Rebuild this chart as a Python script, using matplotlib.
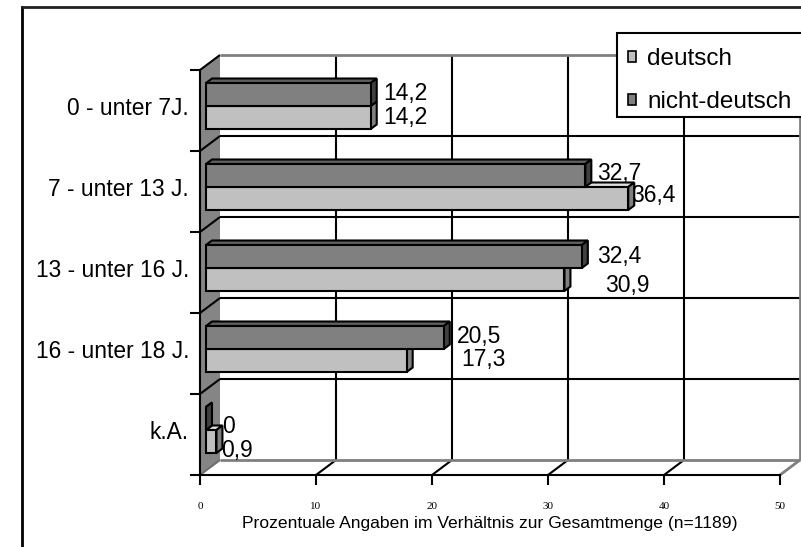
import matplotlib
matplotlib.use("Agg")
import matplotlib.pyplot as plt
from matplotlib.patches import Polygon, Patch, Rectangle
from matplotlib.lines import Line2D

# data, top to bottom as in the chart
categories = ["0 - unter 7J.", "7 - unter 13 J.", "13 - unter 16 J.", "16 - unter 18 J.", "k.A."]
deutsch = [14.2, 36.4, 30.9, 17.3, 0.9]
nicht_deutsch = [14.2, 32.7, 32.4, 20.5, 0.0]
x_ticks = [0, 10, 20, 30, 40, 50]
series_names = ["deutsch", "nicht-deutsch"]

# label nudges in pixels (Excel puts some labels a bit off)
nudge_dark = [(0, 1), (-1, 2), (2, 0), (0, 1), (3, -8)]
nudge_light = [(0, 0), (-10, 3), (10, -6), (4, 1), (-8, -9)]

plt.rcParams['font.family'] = ['Liberation Sans', 'DejaVu Sans']

W, H = 801, 547
fig = plt.figure(figsize=(W / 100, H / 100), dpi=100)
ax = fig.add_axes([200 / W, 72 / H, 580 / W, 405 / H])
n = len(categories)
ax.set_xlim(0, 50)
ax.set_ylim(0, n)

# depth of the box: 20 px right, 15 px up
DX = 20 / (580 / 50)
DY = 15 / (405 / n)


def P(x, y, d):
    return (x + d * DX, y + d * DY)


def line(p, q, color='black', lw=1.5, z=2):
    ax.plot([p[0], q[0]], [p[1], q[1]], color=color, lw=lw, clip_on=False,
            solid_capstyle='butt', zorder=z)


def face(pts, color):
    ax.add_patch(Polygon(pts, closed=True, facecolor=color, edgecolor='black',
                         lw=1.5, joinstyle='miter', clip_on=False, zorder=4))


def bar3d(v, y0, y1, d0, d1, front, top, side):
    face([P(0, y1, d0), P(v, y1, d0), P(v, y1, d1), P(0, y1, d1)], top)
    face([P(v, y0, d0), P(v, y0, d1), P(v, y1, d1), P(v, y1, d0)], side)
    face([P(0, y0, d0), P(v, y0, d0), P(v, y1, d0), P(0, y1, d0)], front)


# wall
ax.add_patch(Polygon([P(0, 0, 0), P(0, n, 0), P(0, n, 1), P(0, 0, 1)], closed=True,
                     facecolor='#858585', edgecolor='none', clip_on=False, zorder=1))
for k in range(1, n + 1):
    line(P(0, k, 0), P(0, k, 1))
line(P(0, 0, 0), P(0, 0, 1), color='#707070')

# back plane grid
for xv in x_ticks[1:-1]:
    line(P(xv, 0, 1), P(xv, n, 1))
    line(P(xv, 0, 0), P(xv, 0, 1))
for k in range(1, n):
    line(P(0, k, 1), P(50, k, 1))
line(P(0, n, 1), P(50, n, 1), color='#808080', lw=2)
line(P(50, 0, 1), P(50, n, 1), color='#808080', lw=2)
line(P(0, 0, 1), P(50, 0, 1), color='#808080', lw=2)
line(P(50, 0, 0), P(50, 0, 1), color='#808080', lw=2)

# bars
h = 23 / 81
d0, d1 = 0.3, 0.6
yc_list = []
for i in range(n):
    yc = n - 1 - i + 0.5
    yc_list.append(yc)
    bar3d(deutsch[i], yc - h, yc, d0, d1, '#c0c0c0', '#e0e0e0', '#808080')
    bar3d(nicht_deutsch[i], yc, yc + h, d0, d1, '#808080', '#606060', '#404040')


def fmt(v):
    return f"{v:g}".replace('.', ',')


for i in range(n):
    yc = yc_list[i]
    # dark label
    x = P(nicht_deutsch[i], 0, d1)[0]
    y = P(0, yc + h / 2, d0)[1]
    ax.annotate(fmt(nicht_deutsch[i]), xy=(x, y), xytext=(7 + nudge_dark[i][0], nudge_dark[i][1]),
                textcoords='offset pixels', ha='left', va='center', fontsize=16.5,
                annotation_clip=False, zorder=6)
    # light label, Excel pushes it past the longer bar
    x = P(max(deutsch[i], nicht_deutsch[i]), 0, d1)[0]
    y = P(0, yc - h / 2, d0)[1]
    ax.annotate(fmt(deutsch[i]), xy=(x, y), xytext=(7 + nudge_light[i][0], nudge_light[i][1]),
                textcoords='offset pixels', ha='left', va='center', fontsize=16.5,
                annotation_clip=False, zorder=6)

# axes
for s in ['top', 'right']:
    ax.spines[s].set_visible(False)
for s in ['left', 'bottom']:
    ax.spines[s].set_linewidth(1.5)
    ax.spines[s].set_zorder(3)
ax.set_xticks(x_ticks)
ax.set_xticklabels([str(t) for t in x_ticks], fontfamily=['Liberation Serif'], fontsize=8)
ax.tick_params(axis='x', length=7, width=1.5, pad=12.5)
ax.set_yticks(range(n + 1))
ax.set_yticklabels([])
ax.tick_params(axis='y', which='major', length=7, width=1.5)
ax.set_yticks([P(0, yc, d0)[1] for yc in yc_list], minor=True)
ax.set_yticklabels(categories, minor=True, fontsize=16.4)
ax.tick_params(axis='y', which='minor', length=0, pad=8)
ax.set_xlabel("Prozentuale Angaben im Verhältnis zur Gesamtmenge (n=1189)", fontsize=12.6, labelpad=3.5)
ax.patch.set_visible(False)

# legend: box drawn separately so the rows can sit like in Excel
fig.add_artist(Rectangle((617 / W, 1 - 117 / H), 0.3, 84 / H, transform=fig.transFigure,
                         facecolor='white', edgecolor='black', lw=1.5, zorder=4))
handles = [Patch(facecolor='#c0c0c0', edgecolor='black', lw=1.2),
           Patch(facecolor='#808080', edgecolor='black', lw=1.2)]
leg = fig.legend(handles, series_names, loc='upper left', bbox_to_anchor=(617 / W, 1 - 37 / H),
                 bbox_transform=fig.transFigure, borderaxespad=0, frameon=False,
                 fontsize=17.5, handlelength=0.35, handleheight=0.3,
                 handletextpad=0.45, labelspacing=0.87, borderpad=0.45)
leg.set_zorder(5)

# outer chart border (only left and top are inside the picture)
fig.add_artist(Line2D([21.5 / W, 21.5 / W], [0, 1 - 7 / H], color='black', lw=2))
fig.add_artist(Line2D([21.5 / W, 1], [1 - 7 / H, 1 - 7 / H], color='#222222', lw=2))

fig.savefig("out.png", dpi=100)
